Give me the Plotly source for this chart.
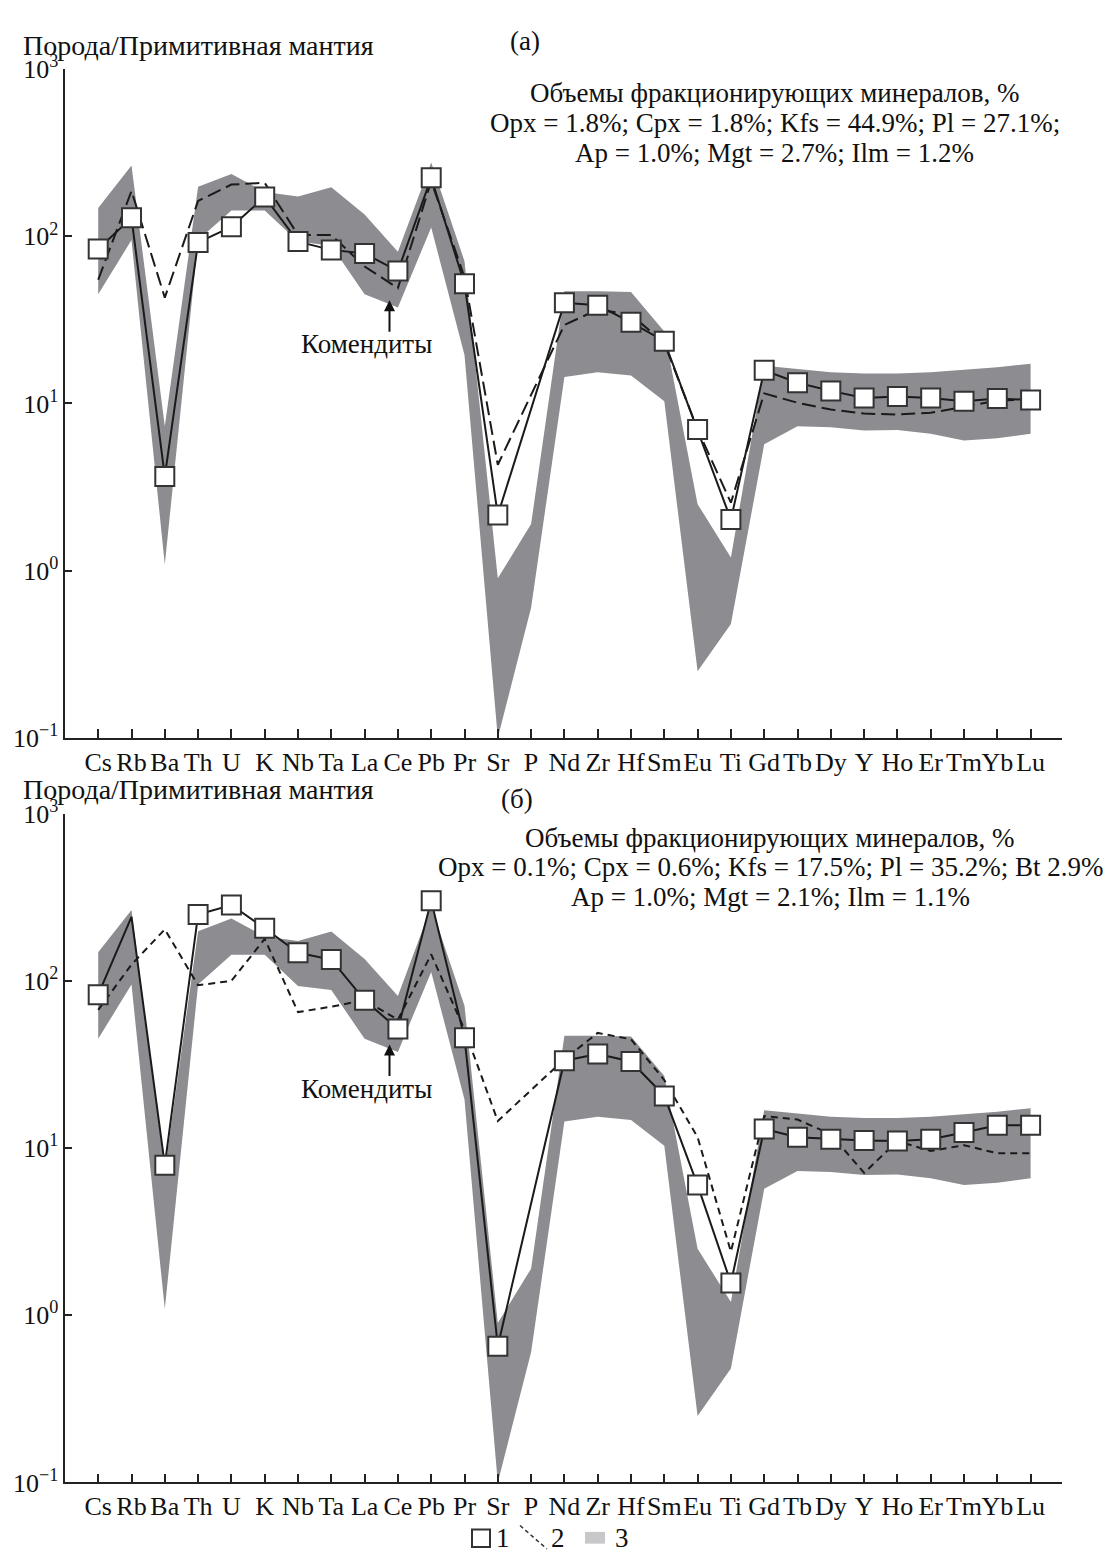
import plotly.graph_objects as go

# ---------------- data ----------------
elements = ["Cs", "Rb", "Ba", "Th", "U", "K", "Nb", "Ta", "La", "Ce", "Pb", "Pr", "Sr", "P",
            "Nd", "Zr", "Hf", "Sm", "Eu", "Ti", "Gd", "Tb", "Dy", "Y", "Ho", "Er", "Tm", "Yb", "Lu"]

# panel (a): 1 - rock, 2 - model
a_rock = [84, 129, 3.66, 92, 114, 172, 93, 83, 79, 62, 224, 52, 2.15, None,
          40, 38.7, 30.6, 23.6, 7.0, 2.02, 15.8, 13.3, 11.9, 10.8, 11.0, 10.8, 10.3, 10.7, 10.5]
a_model = [55, 187, 43, 163, 204, 209, 102, 102, 66, 49, 214, 57, 4.3, None,
           29.5, 36.5, 34, 23, 7.0, 2.55, 11.5, 10.1, 9.2, 8.7, 8.6, 8.8, 9.6, 10.4, 10.6]

# panel (б)
b_rock = [82.6, 241, 7.9, 249, 284, 206, 147, 134, 76.6, 51.5, 301, 45.6, 0.653, None,
          33.3, 36.5, 32.9, 20.5, 6.0, 1.56, 13.0, 11.6, 11.3, 11.1, 11.0, 11.3, 12.4, 13.7, 13.7]
b_rock_has_marker = [True, False] + [True] * 27
b_model = [67, 125, 203, 94, 100, 178, 65, 70, 76.6, 58.5, 144, 51, 14.5, None,
           34, 48.8, 44.7, 25.5, 11.6, 2.4, 15.5, 14.8, 12.1, 7.1, 11.0, 9.6, 10.4, 9.3, 9.3]

# 3 - comendite field (upper / lower envelope)
field_upper = [148, 265, 7.3, 198, 236, 184, 173, 197, 135, 81, 277, 71, 0.9, 1.9,
               47, 47, 46.5, 27, 2.5, 1.2, 16.8, 16.1, 15.4, 15.1, 15.1, 15.4, 15.9, 16.5, 17.3]
field_lower = [45, 95, 1.09, 95, 143, 143, 93, 88, 45, 37.5, 113, 19.5, 0.1, 0.6,
               14.4, 15.4, 14.7, 10.3, 0.25, 0.48, 5.7, 7.3, 7.2, 6.9, 6.95, 6.6, 6.0, 6.2, 6.6]

ytick_vals = [0.1, 1, 10, 100, 1000]
ytick_text = ["10<sup>\u22121</sup>", "10<sup>0</sup>", "10<sup>1</sup>", "10<sup>2</sup>", "10<sup>3</sup>"]

title_y = "Порода/Примитивная мантия"
label_field = "Комендиты"
panel_labels = ["(a)", "(б)"]
info_a = ["Объемы фракционирующих минералов, %",
          "Opx = 1.8%; Cpx = 1.8%; Kfs = 44.9%; Pl = 27.1%;",
          "Ap = 1.0%; Mgt = 2.7%; Ilm = 1.2%"]
info_b = ["Объемы фракционирующих минералов, %",
          "Opx = 0.1%; Cpx = 0.6%; Kfs = 17.5%; Pl = 35.2%; Bt 2.9%",
          "Ap = 1.0%; Mgt = 2.1%; Ilm = 1.1%"]

# ---------------- layout helpers ----------------
W, H = 1108, 1566
FONT = "Liberation Serif"
FS = 26
BAND = "rgb(140,140,145)"
INK = "#1a1a1a"

def px(xp):
    return xp / W

def py(yp):
    return 1 - yp / H

idx = list(range(len(elements)))

fig = go.Figure()

panels = [
    dict(rock=a_rock, model=a_model, marker_mask=[True] * 29, dash="14px,6px",
         xa="x", ya="y", top=52.3, bottom=735.3, info=info_a, lab=panel_labels[0],
         lab_xy=(525, 24), title_y=28, info_y=[77, 107, 138], info_x=775),
    dict(rock=b_rock, model=b_model, marker_mask=b_rock_has_marker, dash="7px,5px",
         xa="x2", ya="y2", top=812.7, bottom=1496.0, info=info_b, lab=panel_labels[1],
         lab_xy=(517, 798), title_y=788, info_y=[838, 867, 898], info_x=770),
]

annotations = []
for k, p in enumerate(panels):
    # field polygon
    fig.add_trace(go.Scatter(
        x=idx + idx[::-1], y=field_upper + field_lower[::-1],
        fill="toself", fillcolor=BAND, line=dict(width=0), mode="lines",
        hoverinfo="skip", showlegend=False, xaxis=p["xa"], yaxis=p["ya"]))
    # model (dashed)
    fig.add_trace(go.Scatter(
        x=idx, y=p["model"], mode="lines", connectgaps=True,
        line=dict(color=INK, width=2, dash=p["dash"]),
        showlegend=False, xaxis=p["xa"], yaxis=p["ya"]))
    # rock (solid)
    fig.add_trace(go.Scatter(
        x=idx, y=p["rock"], mode="lines", connectgaps=True,
        line=dict(color=INK, width=2),
        showlegend=False, xaxis=p["xa"], yaxis=p["ya"]))
    mx = [i for i, m, v in zip(idx, p["marker_mask"], p["rock"]) if m and v is not None]
    my = [v for m, v in zip(p["marker_mask"], p["rock"]) if m and v is not None]
    fig.add_trace(go.Scatter(
        x=mx, y=my, mode="markers",
        marker=dict(symbol="square", size=19, color="white", line=dict(color="#333", width=2)),
        showlegend=False, xaxis=p["xa"], yaxis=p["ya"]))

    # texts
    annotations.append(dict(text=title_y, x=px(21), y=py(p["title_y"]), xref="paper", yref="paper",
                            xanchor="left", yanchor="middle", showarrow=False,
                            font=dict(family=FONT, size=28, color="#111")))
    annotations.append(dict(text=p["lab"], x=px(p["lab_xy"][0]), y=py(p["lab_xy"][1]),
                            xref="paper", yref="paper", xanchor="center", yanchor="middle",
                            showarrow=False, font=dict(family=FONT, size=27, color="#111")))
    for line, yy in zip(p["info"], p["info_y"]):
        annotations.append(dict(text=line, x=px(p["info_x"]), y=py(yy), xref="paper", yref="paper",
                                xanchor="center", yanchor="middle", showarrow=False,
                                font=dict(family=FONT, size=27, color="#111")))
    top = p["top"]
    # label for the field with arrow
    annotations.append(dict(text=label_field, x=px(366), y=py(top + 281), xref="paper", yref="paper",
                            xanchor="center", yanchor="middle", showarrow=False,
                            font=dict(family=FONT, size=27, color="#111")))
    annotations.append(dict(text="", x=px(389.5), y=py(top + 236), xref="paper", yref="paper",
                            ax=0, ay=33, showarrow=True, arrowhead=2, arrowsize=1.1,
                            arrowwidth=2, arrowcolor="#111"))

# legend at the bottom
shapes = [
    dict(type="rect", xref="paper", yref="paper", x0=px(472), x1=px(490), y0=py(1562), y1=py(1544),
         line=dict(color="#333", width=2), fillcolor="white"),
    dict(type="line", xref="paper", yref="paper", x0=px(520), x1=px(547), y0=py(1540), y1=py(1564),
         line=dict(color="#333", width=1.5, dash="4px,3px")),
    dict(type="rect", xref="paper", yref="paper", x0=px(585), x1=px(605), y0=py(1558.5), y1=py(1546.5),
         line=dict(width=0), fillcolor="rgb(200,200,202)"),
]
for t, xx in zip(["1", "2", "3"], [503, 558, 622]):
    annotations.append(dict(text=t, x=px(xx), y=py(1553), xref="paper", yref="paper",
                            xanchor="center", yanchor="middle", showarrow=False,
                            font=dict(family=FONT, size=27, color="#111")))

x0px, x1px = 65.4, 1062.0
c0, step = 98.2, 33.3
xrange = [(x0px - c0) / step, (x1px - c0) / step]

def xaxis_cfg(anchor):
    return dict(domain=[px(x0px), px(x1px)], range=xrange, anchor=anchor,
                tickmode="array", tickvals=idx, ticktext=elements, tickangle=0,
                ticks="inside", ticklen=9, tickwidth=1.5, tickcolor="#222",
                showline=True, linecolor="#222", linewidth=1.5, showgrid=False, zeroline=False,
                tickfont=dict(family=FONT, size=FS, color="#111"))

def yaxis_cfg(anchor, top, bottom):
    return dict(domain=[py(bottom), py(top)], type="log", range=[-1, 3], anchor=anchor,
                tickmode="array", tickvals=ytick_vals, ticktext=ytick_text,
                ticks="inside", ticklen=7, tickwidth=1.5, tickcolor="#222",
                showline=True, linecolor="#222", linewidth=1.5, showgrid=False, zeroline=False,
                tickfont=dict(family=FONT, size=FS, color="#111"))

fig.update_layout(
    width=W, height=H, margin=dict(l=0, r=0, t=0, b=0),
    paper_bgcolor="white", plot_bgcolor="white", showlegend=False,
    xaxis=xaxis_cfg("y"), yaxis=yaxis_cfg("x", panels[0]["top"], panels[0]["bottom"]),
    xaxis2=xaxis_cfg("y2"), yaxis2=yaxis_cfg("x2", panels[1]["top"], panels[1]["bottom"]),
    annotations=annotations, shapes=shapes,
)

fig.write_html("out.html", config={"displayModeBar": False},
               post_script="document.body.style.margin='0px';")
